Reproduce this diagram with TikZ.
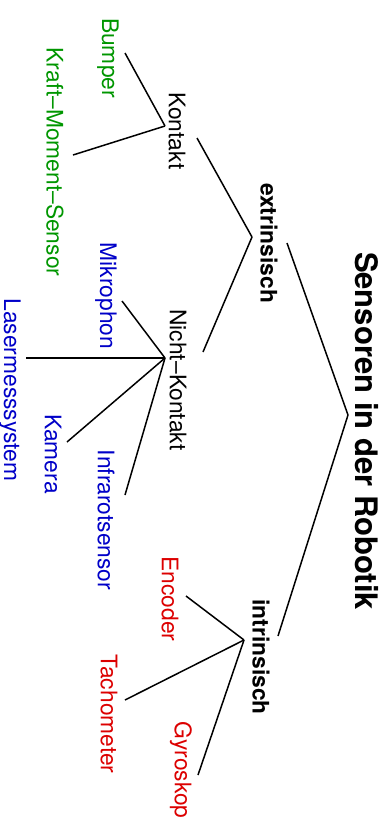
\documentclass[tikz,border=0pt]{standalone}
\usepackage{fontspec}
\setmainfont{TeX Gyre Heros}
\definecolor{contactgreen}{RGB}{0,150,0}
\definecolor{remoteblue}{RGB}{0,0,200}
\definecolor{innerred}{RGB}{220,0,0}

\begin{document}
\begin{tikzpicture}[x=0.5pt, y=-0.5pt,
    every node/.style={rotate=-90, inner sep=0pt, font=\fontsize{11.4}{13}\selectfont},
    cat/.style={font=\fontsize{11.4}{13}\selectfont\bfseries},
    contact/.style={text=contactgreen},
    remote/.style={text=remoteblue},
    inner/.style={text=innerred},
    branch/.style={line width=0.75pt}]
    \useasboundingbox (0,0) rectangle (389,821);
    % root and categories
    \node[font=\fontsize{15.5}{18}\selectfont\bfseries] (root) at (367,431) {Sensoren in der Robotik};
    \node[cat] (extr) at (269,243) {extrinsisch};
    \node[cat] (intr) at (261,657) {intrinsisch};
    \node (kontakt) at (177,131) {Kontakt};
    \node (nk) at (178,380) {Nicht--Kontakt};
    % leaves
    \node[contact] (bumper) at (108,58) {Bumper};
    \node[contact] (kms) at (55,162) {Kraft--Moment--Sensor};
    \node[remote] (mik) at (106,296) {Mikrophon};
    \node[remote] (laser) at (10,390) {Lasermesssystem};
    \node[remote] (kamera) at (53,454) {Kamera};
    \node[remote] (infra) at (106,520) {Infrarotsensor};
    \node[inner] (encoder) at (170,599) {Encoder};
    \node[inner] (tacho) at (109,714) {Tachometer};
    \node[inner] (gyro) at (181,770) {Gyroskop};
    % edges: parent/shift -- child/shift
    \foreach \pa/\px/\py/\ch/\cx/\cy in {
        root/-19/-16/extr/18/0, root/-19/-16/intr/17/-21,
        extr/-17/-6/kontakt/20/7, extr/-17/-6/nk/25/-28,
        kontakt/-12/-5/bumper/17/-5, kontakt/-12/-5/kms/18/-7,
        nk/-13/-22/mik/16/5, nk/-13/-22/laser/16/-32,
        nk/-13/-22/kamera/14/-12, nk/-13/-22/infra/19/-25,
        intr/-17/-17/encoder/16/-3, intr/-17/-17/tacho/16/-14,
        intr/-17/-17/gyro/17/5} {
        \draw[branch] ([shift={(\px,\py)}]\pa.center) -- ([shift={(\cx,\cy)}]\ch.center);
    }
\end{tikzpicture}
\end{document}
